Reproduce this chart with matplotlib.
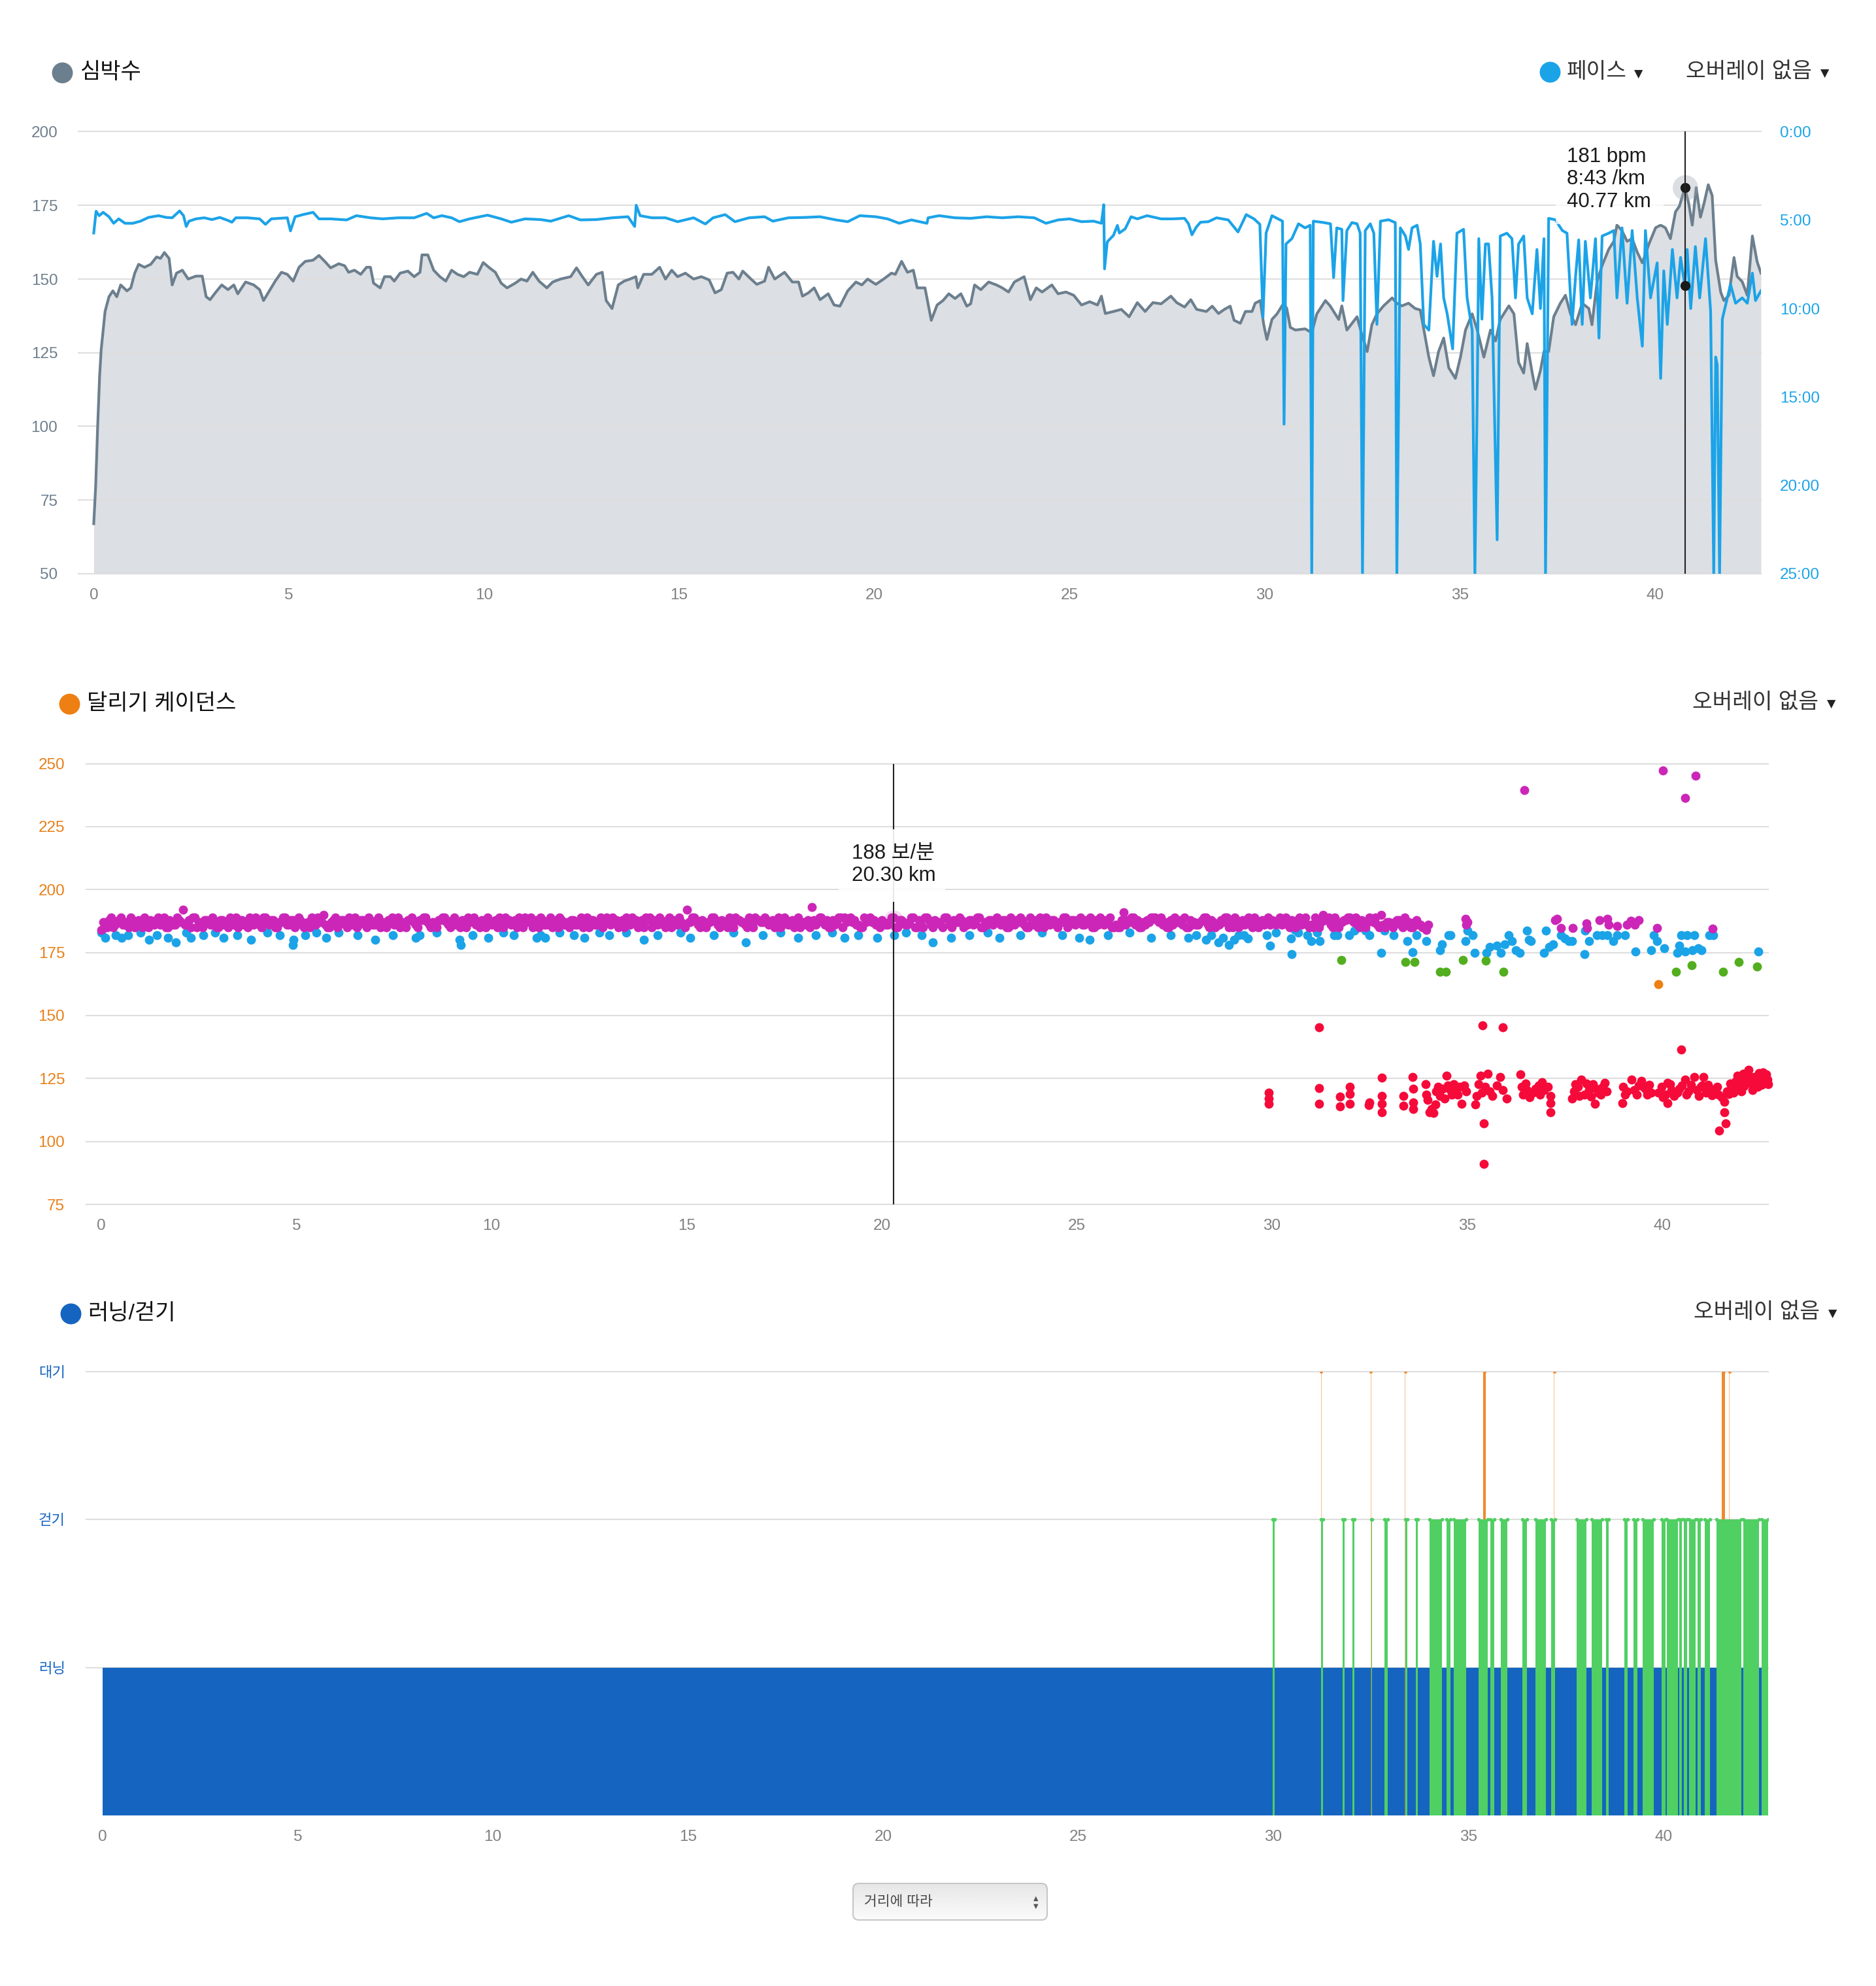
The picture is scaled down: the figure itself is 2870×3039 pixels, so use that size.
import numpy as np
import matplotlib
matplotlib.use("Agg")
import matplotlib.pyplot as plt
from matplotlib.lines import Line2D
from matplotlib.patches import FancyBboxPatch, Rectangle

plt.rcParams['font.family'] = ['Liberation Sans', 'Noto Sans CJK KR', 'DejaVu Sans']

# ── data: heart rate (km, bpm) ────────────────────────────────────
hr_km = [
    0.00, 0.05, 0.10, 0.15, 0.19, 0.29, 0.39, 0.49, 0.59, 0.69,
    0.85, 0.95, 1.05, 1.15, 1.30, 1.46, 1.61, 1.71, 1.81, 1.93,
    2.01, 2.12, 2.27, 2.42, 2.62, 2.78, 2.88, 2.98, 3.13, 3.28,
    3.44, 3.59, 3.69, 3.89, 4.10, 4.25, 4.35, 4.50, 4.65, 4.81,
    4.96, 5.11, 5.26, 5.42, 5.62, 5.77, 5.92, 6.07, 6.28, 6.43,
    6.53, 6.68, 6.84, 6.99, 7.09, 7.17, 7.34, 7.45, 7.60, 7.70,
    7.85, 8.05, 8.21, 8.36, 8.41, 8.56, 8.71, 8.87, 9.02, 9.17,
    9.32, 9.48, 9.63, 9.83, 9.98, 10.14, 10.29, 10.44, 10.59, 10.80,
    10.95, 11.10, 11.25, 11.41, 11.61, 11.76, 11.96, 12.22, 12.37, 12.52,
    12.67, 12.88, 13.03, 13.13, 13.28, 13.44, 13.59, 13.74, 13.89, 13.94,
    14.09, 14.30, 14.50, 14.65, 14.81, 14.96, 15.16, 15.37, 15.57, 15.77,
    15.92, 16.08, 16.23, 16.38, 16.53, 16.63, 16.84, 16.99, 17.19, 17.29,
    17.45, 17.70, 17.90, 18.06, 18.16, 18.31, 18.46, 18.61, 18.82, 18.97,
    19.12, 19.32, 19.53, 19.68, 19.83, 20.04, 20.24, 20.44, 20.54, 20.70,
    20.85, 21.00, 21.10, 21.30, 21.46, 21.61, 21.76, 21.91, 22.07, 22.22,
    22.37, 22.47, 22.57, 22.73, 22.93, 23.13, 23.28, 23.44, 23.59, 23.84,
    24.00, 24.15, 24.30, 24.55, 24.71, 24.91, 25.11, 25.31, 25.52, 25.72,
    25.82, 25.92, 26.13, 26.33, 26.53, 26.74, 26.94, 27.14, 27.35, 27.60,
    27.75, 27.95, 28.11, 28.26, 28.51, 28.66, 28.82, 28.97, 29.12, 29.22,
    29.38, 29.51, 29.68, 29.76, 29.89, 29.98, 30.06, 30.19, 30.32, 30.49,
    30.57, 30.66, 30.79, 31.04, 31.21, 31.34, 31.56, 31.68, 31.90, 31.98,
    32.11, 32.37, 32.50, 32.63, 32.75, 32.88, 33.05, 33.27, 33.39, 33.52,
    33.69, 33.86, 33.99, 34.12, 34.21, 34.33, 34.46, 34.59, 34.72, 34.89,
    35.02, 35.15, 35.32, 35.45, 35.62, 35.79, 35.92, 36.04, 36.26, 36.39,
    36.51, 36.64, 36.73, 36.86, 36.94, 37.07, 37.16, 37.28, 37.41, 37.58,
    37.71, 37.84, 37.97, 38.14, 38.31, 38.39, 38.52, 38.65, 38.82, 38.95,
    39.03, 39.16, 39.29, 39.42, 39.55, 39.68, 39.85, 40.02, 40.15, 40.27,
    40.40, 40.53, 40.63, 40.77, 40.87, 40.96, 41.06, 41.17, 41.26, 41.37,
    41.47, 41.56, 41.69, 41.77, 41.90, 42.03, 42.11, 42.24, 42.37, 42.50,
    42.62, 42.72,
]
hr_bpm = [
    67, 80, 100, 117, 126, 139, 144, 146, 144, 148,
    146, 147, 152, 155, 154, 155, 157.5, 157, 159, 157,
    148, 152, 153, 150, 151, 151, 144, 143, 145.6, 148,
    146.4, 148, 145, 149, 148, 146.4, 142.7, 146, 149.3, 152.3,
    151.6, 149.3, 154, 156, 156.4, 158, 156, 153.8, 155.2, 154.5,
    152.3, 153, 151.6, 154, 154, 148.6, 147, 150.8, 150.8, 149.3,
    152, 152.7, 150.8, 152.3, 158.2, 158.2, 153, 150.8, 149.3, 153,
    151.6, 150.8, 152.3, 151.6, 155.6, 153.8, 152.3, 148.6, 147, 148.6,
    150, 149.3, 152.3, 149.3, 147, 149, 150, 150.8, 153.8, 150.8,
    148, 151.6, 152.3, 142.7, 140, 148, 149.3, 150, 150.8, 147,
    151.6, 151.6, 154, 150, 153, 150.8, 152, 150, 150.8, 149.7,
    145.3, 146.4, 152, 152.3, 150, 152.7, 150, 148.2, 149.3, 154,
    150, 152.3, 149, 149, 144.2, 145.3, 147, 143, 145, 141.2,
    140.8, 146, 149, 148, 150, 148.2, 150, 152, 151.6, 156,
    152.3, 153, 147, 147, 136, 141.2, 142.7, 145, 143.4, 145,
    140.8, 141.6, 148, 146.4, 149, 148, 147, 145.6, 149, 150.8,
    143, 147, 145.6, 148, 145, 145.6, 144.5, 141.2, 142.3, 141.2,
    144.2, 138.3, 139, 139.7, 137.2, 142, 139, 142, 141.6, 144.2,
    142, 140.5, 143, 139.7, 139, 140.8, 138.3, 139.7, 140.8, 136,
    135, 139, 139, 141.8, 142.7, 134.5, 129.5, 136.3, 138.2, 141.8,
    140, 133.6, 132.7, 133.1, 131.8, 138.2, 142.7, 140.9, 136.3, 140.9,
    132.7, 137.2, 130.9, 125.4, 134.5, 138.2, 140.9, 143.6, 141.8, 140.9,
    141.8, 140, 139.5, 130, 123.5, 117.2, 125.4, 130, 119.9, 116.3,
    123.5, 132.7, 138.2, 132.7, 123.5, 132.7, 129, 136.3, 140.9, 138.2,
    121.7, 118.1, 128.1, 118.1, 112.6, 119, 125.4, 125.4, 137.2, 141.8,
    144.5, 138.2, 134.5, 141.8, 140, 134.5, 149.1, 154.6, 160.1, 162.8,
    168.3, 166.4, 162.8, 163.7, 159.1, 155.5, 161.9, 167.4, 168.3, 167.4,
    163.7, 172.8, 174.7, 181, 175.6, 168.3, 181, 171, 175.6, 182,
    178.3, 156.4, 145.5, 142.7, 144.5, 157.3, 150.9, 149.1, 144.5, 164.6,
    156, 152,
]

# ── data: pace (km, minutes per km) ───────────────────────────────
pace_km = [
    0.00, 0.06, 0.14, 0.24, 0.39, 0.51, 0.64, 0.80, 1.00, 1.20,
    1.40, 1.66, 1.86, 2.01, 2.20, 2.30, 2.37, 2.44, 2.62, 2.83,
    3.03, 3.23, 3.44, 3.54, 3.64, 3.94, 4.25, 4.40, 4.55, 4.96,
    5.04, 5.16, 5.36, 5.62, 5.77, 6.07, 6.48, 6.73, 7.09, 7.40,
    7.80, 8.21, 8.53, 8.71, 8.92, 9.17, 9.37, 9.63, 10.09, 10.44,
    10.70, 11.05, 11.45, 11.71, 12.17, 12.47, 12.88, 13.28, 13.69, 13.86,
    13.90, 14.00, 14.30, 14.65, 14.96, 15.37, 15.67, 15.87, 16.18, 16.43,
    16.79, 17.19, 17.40, 17.80, 18.21, 18.61, 19.02, 19.32, 19.63, 20.04,
    20.34, 20.64, 20.95, 21.35, 21.38, 21.66, 22.07, 22.47, 22.88, 23.28,
    23.69, 24.10, 24.40, 24.71, 25.01, 25.31, 25.62, 25.82, 25.88, 25.90,
    25.97, 26.13, 26.23, 26.28, 26.43, 26.58, 26.74, 26.99, 27.35, 27.65,
    27.95, 28.05, 28.14, 28.25, 28.36, 28.56, 28.77, 29.07, 29.32, 29.53,
    29.73, 29.88, 29.96, 30.04, 30.19, 30.32, 30.46, 30.50, 30.55, 30.70,
    30.87, 31.04, 31.17, 31.21, 31.25, 31.52, 31.69, 31.77, 31.85, 31.98,
    32.01, 32.11, 32.24, 32.37, 32.45, 32.51, 32.58, 32.71, 32.80, 32.88,
    32.97, 33.18, 33.35, 33.39, 33.48, 33.61, 33.69, 33.78, 33.91, 33.99,
    34.08, 34.21, 34.33, 34.42, 34.51, 34.59, 34.68, 34.82, 34.93, 35.10,
    35.19, 35.32, 35.39, 35.45, 35.49, 35.57, 35.66, 35.74, 35.83, 35.96,
    36.04, 36.21, 36.34, 36.43, 36.51, 36.64, 36.73, 36.86, 36.98, 37.07,
    37.16, 37.20, 37.28, 37.45, 37.63, 37.75, 37.88, 37.97, 38.05, 38.14,
    38.22, 38.35, 38.48, 38.57, 38.65, 38.82, 38.95, 39.03, 39.16, 39.29,
    39.42, 39.55, 39.68, 39.76, 39.89, 40.06, 40.15, 40.23, 40.32, 40.45,
    40.57, 40.66, 40.77, 40.83, 40.92, 41.04, 41.15, 41.30, 41.43, 41.51,
    41.56, 41.60, 41.66, 41.73, 41.94, 42.07, 42.24, 42.37, 42.50, 42.58,
    42.72,
]
pace_min = [
    5.73, 4.50, 4.75, 4.56, 4.81, 5.18, 4.93, 5.18, 5.18, 5.06,
    4.85, 4.75, 4.85, 4.87, 4.48, 4.75, 5.36, 5.06, 4.93, 4.87,
    4.97, 4.85, 5.02, 5.12, 4.87, 4.87, 4.93, 5.24, 4.93, 4.87,
    5.61, 4.81, 4.69, 4.56, 4.93, 4.93, 4.99, 4.75, 4.87, 4.93,
    4.87, 4.87, 4.62, 4.87, 4.75, 4.87, 5.09, 4.93, 4.72, 4.93,
    5.12, 4.93, 4.97, 5.06, 4.75, 4.99, 4.97, 4.87, 4.81, 5.36,
    4.16, 4.75, 4.87, 4.87, 5.09, 4.87, 5.22, 4.87, 4.69, 5.09,
    4.87, 4.81, 5.06, 4.87, 4.85, 4.81, 4.99, 5.09, 4.75, 4.81,
    4.93, 5.18, 4.99, 5.18, 4.87, 4.75, 4.87, 4.90, 4.81, 4.87,
    4.81, 4.87, 5.18, 4.99, 4.93, 5.09, 5.06, 5.18, 4.13, 7.76,
    6.23, 5.86, 5.30, 5.73, 5.49, 4.81, 4.93, 4.75, 4.93, 4.93,
    4.90, 5.20, 5.83, 5.40, 5.12, 5.09, 4.87, 4.99, 5.67, 4.69,
    4.93, 5.24, 10.5, 5.73, 4.75, 4.90, 5.06, 16.54, 6.35, 6.05,
    5.21, 5.44, 5.29, 25.0, 5.06, 5.14, 5.21, 8.25, 5.44, 5.52,
    9.55, 5.59, 5.14, 5.21, 5.74, 25.0, 5.59, 5.21, 5.74, 10.9,
    5.06, 4.98, 5.14, 25.0, 5.44, 5.90, 6.66, 5.44, 5.29, 6.35,
    10.9, 11.22, 6.20, 8.18, 6.35, 9.40, 10.3, 12.28, 5.74, 5.52,
    9.40, 11.22, 25.0, 14.9, 6.05, 10.6, 6.35, 6.35, 9.40, 23.08,
    5.90, 5.74, 6.05, 9.40, 6.35, 5.90, 9.40, 10.3, 6.66, 10.0,
    6.05, 25.0, 4.90, 4.98, 5.59, 5.74, 10.9, 8.18, 6.12, 10.9,
    6.20, 9.40, 6.05, 11.67, 5.90, 5.74, 5.59, 9.40, 5.44, 9.70,
    5.59, 9.40, 12.13, 5.59, 9.40, 7.42, 13.95, 7.87, 10.9, 6.66,
    9.40, 7.11, 8.72, 6.66, 10.0, 6.50, 9.40, 6.05, 10.15, 25.0,
    12.74, 13.2, 25.0, 10.6, 8.63, 9.70, 9.40, 9.70, 8.00, 9.55,
    9.00,
]
hr_ticks = [50, 75, 100, 125, 150, 175, 200]
pace_ticks = [0, 5, 10, 15, 20, 25]
pace_labels = ['0:00', '5:00', '10:00', '15:00', '20:00', '25:00']

# ── data: running cadence (steps/min) ─────────────────────────────
# main magenta band: two interleaved sample rows, every 0.1 km, 0 to 34 km
mag_spm = [int(v) for v in """
184 186 188 185 187 189 186 185 188 187  186 189 185 187 188 186 189 185 187 186
188 192 186 185 189 187 185 188 186 187  185 188 187 189 186 185 188 187 189 186
187 185 189 186 188 185 187 189 186 188  186 188 185 187 189 186 188 190 185 187
189 186 188 185 187 189 186 188 185 187  186 189 187 185 188 186 189 187 185 188
187 185 188 189 186 187 185 188 189 186  188 186 185 187 189 188 186 185 187 189
186 188 189 185 187 186 188 189 185 187  189 187 185 188 186 189 187 185 188 186
185 188 186 189 187 185 188 186 189 187  187 189 188 186 185 187 189 188 186 185
188 185 187 189 186 188 185 187 189 186  192 187 189 186 188 185 187 189 186 188
186 189 185 188 187 186 189 185 188 187  189 186 188 187 185 189 186 188 187 185
187 188 193 186 189 187 188 185 186 189  185 187 189 188 186 185 187 189 188 186
188 186 187 189 185 188 186 187 189 185  186 189 188 185 187 186 189 188 185 187
189 185 186 188 187 189 185 186 188 187  187 188 185 189 186 187 188 185 189 186
185 187 189 186 188 185 187 189 186 188  188 189 186 187 185 188 189 186 187 185
186 185 191 188 189 186 185 187 188 189  189 187 186 185 188 189 187 186 185 188
187 186 188 189 185 187 186 188 189 185  185 188 187 186 189 185 188 187 186 189
188 186 189 187 186 188 185 189 187 186  186 189 185 190 188 186 189 185 187 188
189 187 186 188 185 189 187 186 190 185  187 185 188 186 189 187 185 188 186 185
186
""".split()]
mag_b_spm = [int(v) for v in """
187 185 189 186 188 186 187 189 185 188  185 187 188 186 189 187 185 188 186 189
187 186 188 189 185 186 188 187 189 185  188 186 185 187 189 188 186 185 187 189
186 189 187 188 185 187 189 186 188 185  189 187 186 185 188 189 187 186 185 188
185 188 187 189 186 185 188 187 189 186  188 185 186 188 189 187 185 186 188 189
186 188 189 187 185 186 188 189 187 185  189 186 188 185 187 189 186 188 185 187
187 185 186 189 188 187 185 186 189 188  185 188 189 186 187 185 188 189 186 187
188 186 187 185 189 188 186 187 185 189  186 187 185 188 189 186 187 185 188 189
189 188 186 187 185 189 188 186 187 185  187 189 188 185 186 187 189 188 185 186
185 186 189 188 187 185 186 189 188 187  188 187 185 189 186 188 187 185 189 186
186 185 188 187 189 186 185 188 187 189  189 188 187 186 185 189 188 187 186 185
187 186 189 185 188 187 186 189 185 188  185 189 186 188 187 185 189 186 188 187
188 187 188 186 189 185 187 188 186 189  186 188 185 187 188 189 186 185 187 188
189 185 187 188 186 187 189 185 188 186  187 186 188 189 185 186 187 188 189 185
185 188 186 187 189 188 185 186 187 189  188 189 187 185 186 187 188 189 185 186
186 187 189 186 188 185 186 187 189 188  189 185 188 187 186 189 185 188 187 186
187 188 186 189 185 187 188 186 189 185  185 186 187 188 189 185 186 187 188 189
188 189 185 186 187 188 189 185 186 187  186 187 188 185 186 185 187 186 185 184
""".split()]
mag_step_km = 0.1

mag2_km = [34.96, 34.98, 35.00, 37.26, 37.30, 37.40, 37.70, 38.05, 38.07, 38.40,
           38.60, 38.62, 38.85, 39.10, 39.20, 39.30, 39.40, 39.87, 41.29, 36.46,
           40.02, 40.59, 40.86]
mag2_spm = [188.5, 186.0, 187.0, 187.8, 188.5, 184.7, 184.7, 186.5, 184.7, 187.8,
            188.5, 186.0, 185.5, 186.0, 187.5, 186.0, 187.8, 184.7, 184.6, 239.6,
            247.4, 236.5, 245.3]

blue_km = [
    0.00, 0.10, 0.36, 0.52, 0.68, 1.00, 1.22, 1.43, 1.70, 1.91,
    2.18, 2.29, 2.61, 2.92, 3.14, 3.48, 3.83, 4.26, 4.58, 4.90,
    4.92, 5.22, 5.51, 5.76, 6.08, 6.56, 7.02, 7.47, 8.05, 8.16,
    8.59, 9.18, 9.21, 9.52, 9.92, 10.30, 10.57, 11.15, 11.26, 11.37,
    11.74, 12.11, 12.38, 12.76, 13.02, 13.45, 13.90, 14.25, 14.84, 15.10,
    15.70, 16.20, 16.52, 16.95, 17.40, 17.85, 18.30, 18.72, 19.05, 19.40,
    19.88, 20.31, 20.62, 21.02, 21.30, 21.78, 22.25, 22.71, 23.02, 23.55,
    24.10, 24.62, 25.05, 25.33, 25.80, 26.35, 26.90, 27.40, 27.85, 28.05,
    28.30, 28.45, 28.62, 28.75, 28.90, 29.02, 29.15,
    29.28, 29.38, 29.86, 29.95, 30.10, 30.48, 30.51, 30.58, 30.67, 30.91,
    31.00, 31.15, 31.23, 31.59, 31.68, 31.97, 32.11, 32.40, 32.50, 32.79,
    32.88, 33.12, 33.46, 33.60, 33.70, 33.96, 34.30, 34.35, 34.52, 34.57,
    34.95, 35.00, 35.14, 35.19, 35.50, 35.58, 35.77, 35.86, 35.96, 36.06,
    36.15, 36.25, 36.35, 36.54, 36.58, 36.63, 36.97, 37.02, 37.11, 37.21,
    37.40, 37.50, 37.60, 37.69, 38.00, 38.03, 38.12, 38.32, 38.46, 38.60,
    38.75, 38.85, 39.04, 39.31, 39.71, 39.79, 39.86, 40.05, 40.38, 40.43,
    40.48, 40.58, 40.63, 40.77, 40.82, 40.92, 41.01, 41.20, 41.30, 42.46,
]
blue_spm = [
    183, 181, 182, 181, 182, 183, 180, 182, 181, 179,
    183, 181, 182, 183, 181, 182, 180, 183, 182, 178,
    180, 182, 183, 181, 183, 182, 180, 182, 181, 182,
    183, 180, 178, 182, 181, 183, 182, 181, 182, 181,
    183, 182, 181, 183, 182, 183, 180, 182, 183, 181,
    182, 183, 179, 182, 183, 181, 182, 183, 181, 182,
    181, 182, 183, 182, 179, 181, 182, 183, 181, 182,
    183, 182, 181, 180, 182, 183, 181, 182, 181, 182,
    180, 182, 179, 181, 178, 180, 182,
    181.8, 180.7, 181.8, 177.8, 183.0, 180.7, 174.3, 184.1, 183.0, 181.8,
    179.5, 183.0, 179.5, 181.8, 181.8, 181.8, 183.6, 183.6, 181.8, 174.9,
    183.6, 181.8, 179.5, 175.1, 181.8, 179.5, 176.0, 178.4, 181.8, 181.8,
    179.5, 183.6, 181.8, 174.9, 174.9, 177.2, 177.8, 174.9, 178.4, 181.8,
    179.5, 176.0, 174.9, 183.6, 180.1, 179.5, 174.9, 183.6, 177.2, 178.4,
    181.8, 180.7, 179.5, 179.5, 174.3, 183.6, 179.5, 181.8, 181.8, 181.8,
    179.5, 181.8, 181.8, 175.3, 176.0, 181.8, 179.5, 176.6, 174.9, 177.8,
    181.8, 175.4, 181.8, 176.0, 181.8, 176.6, 176.0, 181.8, 181.8, 175.3,
]

green_km = [31.77, 33.41, 33.65, 34.30, 34.45, 34.89, 35.48, 35.93, 40.35, 40.75,
            41.56, 41.96, 42.43]
green_spm = [172.1, 171.2, 171.2, 167.5, 167.5, 172.1, 171.9, 167.5, 167.5, 170.0,
             167.5, 171.2, 169.5]
orange_km = [39.90]
orange_spm = [162.4]

red_km = [
    29.92, 29.92, 29.92, 31.20, 31.20, 31.75, 31.75, 32.00, 32.00, 32.00,
    32.48, 32.50, 32.81, 32.81, 32.81, 32.81, 33.36, 33.36, 33.60, 33.62,
    33.62, 33.62, 33.94, 33.96, 33.99, 34.04, 34.09, 34.13, 34.18, 34.21,
    34.25, 34.31, 34.37, 34.42, 34.47, 34.50, 34.57, 34.61, 34.66, 34.71,
    34.76, 34.81, 34.86, 34.92, 34.98, 35.21, 35.24, 35.29, 35.34, 35.38,
    35.46, 35.53, 35.58, 35.65, 35.77, 35.85, 35.91, 36.01, 36.36, 36.39,
    36.44, 36.54, 36.68, 36.83, 36.87, 36.97, 37.07, 37.13, 37.13, 37.13,
    37.69, 37.74, 37.84, 37.93, 38.00, 38.12, 38.22, 38.27, 38.36, 38.48,
    38.58, 38.97, 38.99, 39.04, 39.21, 39.28, 39.40, 39.52, 39.61, 39.71,
    39.90, 39.98, 40.08, 40.14, 40.14, 40.24, 40.38, 40.50, 40.58, 40.67,
    40.82, 40.88, 40.98, 41.06, 41.13, 41.23, 41.35, 41.44, 41.52, 41.59,
    41.59, 41.65, 41.78, 41.87, 41.92, 42.00, 42.07, 42.13, 42.21, 42.29,
    42.36, 42.42, 42.50, 42.58, 42.64, 42.69, 42.31, 42.45, 31.20, 35.39,
    35.92, 40.48, 35.42, 35.42, 41.45, 41.63, 36.50, 36.60, 36.75, 36.92,
    37.78, 37.88, 38.05, 38.18, 38.30, 38.42, 38.53, 39.10, 39.35, 39.46,
    39.57, 39.66, 40.02, 40.20, 40.30, 40.44, 40.62, 40.73, 40.93, 41.02,
    41.18, 41.28, 41.40, 41.70, 41.74, 41.83, 41.96, 42.03, 42.10, 42.17,
    42.25, 42.33, 42.39, 42.48, 42.55, 42.61, 42.67, 42.71,
]
red_spm = [
    119.3, 117.0, 114.9, 121.2, 115.0, 117.8, 113.9, 121.6, 118.9, 115.0,
    114.4, 115.6, 125.4, 118.1, 114.9, 111.7, 118.1, 114.1, 125.6, 121.0,
    115.5, 112.9, 122.7, 118.7, 116.4, 111.7, 112.9, 111.2, 114.6, 119.9,
    121.6, 118.1, 121.0, 117.0, 126.2, 122.2, 120.4, 118.7, 122.7, 119.9,
    118.7, 121.6, 115.0, 122.2, 119.9, 114.6, 118.1, 122.7, 126.2, 119.3,
    121.6, 126.8, 119.9, 118.1, 122.2, 125.6, 120.4, 117.0, 126.6, 121.6,
    118.7, 120.4, 119.3, 122.2, 118.7, 120.4, 121.6, 118.1, 115.2, 111.7,
    117.0, 119.9, 121.6, 124.5, 118.7, 120.4, 122.7, 115.0, 119.3, 121.6,
    119.9, 115.2, 121.6, 118.7, 124.5, 120.4, 122.2, 121.6, 118.7, 119.3,
    119.3, 121.6, 118.7, 123.3, 115.2, 120.4, 119.3, 122.2, 124.5, 119.9,
    125.6, 120.4, 121.6, 125.6, 119.3, 121.0, 120.4, 118.7, 117.5, 111.7,
    115.8, 119.9, 121.6, 123.9, 126.2, 123.3, 126.8, 124.5, 128.5, 122.7,
    125.6, 123.9, 125.1, 127.4, 123.9, 124.5, 120.4, 121.6, 145.2, 146.1,
    145.2, 136.4, 107.3, 91.1, 104.2, 107.2, 123.0, 117.5, 121.0, 123.5,
    122.8, 118.0, 123.0, 117.8, 121.0, 118.5, 123.2, 120.0, 118.5, 124.0,
    120.8, 122.6, 117.5, 122.8, 118.2, 120.8, 118.5, 122.6, 118.0, 122.3,
    122.4, 118.4, 121.8, 118.8, 122.9, 119.5, 121.0, 119.8, 122.0, 124.2,
    125.8, 124.3, 122.0, 127.2, 122.5, 125.9, 126.6, 122.8,
]
cad_ticks = [75, 100, 125, 150, 175, 200, 225, 250]

# ── data: running / walking segments (km) ─────────────────────────
run_start = [0.0]
run_end = [42.62]
walk_start = [29.98, 31.22, 31.77, 32.03, 32.51, 32.85, 33.38, 33.65, 34.01, 34.44,
              34.63, 35.26, 35.57, 35.83, 36.39, 36.72, 37.13, 37.78, 38.16, 38.53,
              39.00, 39.23, 39.47, 39.95, 40.09, 40.41, 40.53, 40.66, 40.88, 41.06,
              41.36, 42.04, 42.52]
walk_end = [30.03, 31.27, 31.82, 32.08, 32.54, 32.93, 33.43, 33.70, 34.33, 34.54,
            34.94, 35.50, 35.66, 36.00, 36.50, 36.99, 37.23, 38.03, 38.43, 38.60,
            39.08, 39.33, 39.76, 40.05, 40.37, 40.47, 40.60, 40.82, 40.95, 41.20,
            41.99, 42.45, 42.69]
stand_start = [31.22, 32.49, 33.37, 35.38, 37.19, 41.50, 41.68]
stand_end = [31.24, 32.51, 33.39, 35.45, 37.21, 41.58, 41.70]
state_ticks = [1, 2, 3]
state_labels = ['러닝', '걷기', '대기']
km_ticks = [0, 5, 10, 15, 20, 25, 30, 35, 40]

# ── colours ───────────────────────────────────────────────────────
HR_LINE, HR_FILL = '#6C7F8E', '#DCDFE3'
PACE = '#1BA3E8'
GRID = '#DEDEDE'
MAG, CBLUE, CGREEN, CORANGE, CRED = '#CC26B8', '#1BA3E8', '#52AE1F', '#EE7F12', '#F50A3A'
RUN, WALK, STAND = '#1565C0', '#50CF63', '#F08A2C'
XLAB = '#808080'

W, H = 2870, 3039
fig = plt.figure(figsize=(W / 100, H / 100), dpi=100)
fig.patch.set_facecolor('white')


def px_axes(l, t, r, b):
    return fig.add_axes([l / W, 1 - b / H, (r - l) / W, (b - t) / H])


def style(ax, ylim, yticks, ylabels, ycolor, xlim, ypad=23):
    ax.set_xlim(*xlim)
    ax.set_ylim(*ylim)
    for s in ax.spines.values():
        s.set_visible(False)
    ax.set_facecolor('none')
    ax.set_xticks(km_ticks)
    ax.set_yticks(yticks)
    ax.set_yticklabels(ylabels)
    ax.tick_params(length=0, labelsize=17.5)
    ax.tick_params(axis='x', colors=XLAB, pad=16)
    ax.tick_params(axis='y', colors=ycolor, pad=ypad)
    for y in yticks:
        ax.axhline(y, color=GRID, lw=1.5, zorder=1.5, clip_on=False)


def header(xdot, y, color, label, size=24.5):
    fig.add_artist(Line2D([xdot / W], [1 - y / H], marker='o', ms=23, color=color,
                          mew=0, transform=fig.transFigure))
    fig.text((xdot + 27) / W, 1 - y / H, label, fontsize=size, color='#111',
             va='center', ha='left')


def overlay(x, y, label='오버레이 없음', tri_dx=206):
    fig.text(x / W, 1 - y / H, label, fontsize=24, color='#333', va='center', ha='left')
    fig.text((x + tri_dx) / W, 1 - (y + 3) / H, '▼', fontsize=12.5, color='#222',
             va='center', ha='left', family='DejaVu Sans')


# ── panel 1: heart rate + pace ────────────────────────────────────
ax1 = px_axes(120.2, 201.5, 2694, 878)
style(ax1, (50, 200), hr_ticks, [str(t) for t in hr_ticks], '#6E7F8D', (-0.389, 42.72))
ax1.fill_between(hr_km, hr_bpm, 50, color=HR_FILL, lw=0, zorder=1)
ax1.plot(hr_km, hr_bpm, color=HR_LINE, lw=3.0, zorder=2, solid_joinstyle='round')

axp = ax1.twinx()
axp.set_ylim(25, 0)
for s in axp.spines.values():
    s.set_visible(False)
axp.set_yticks(pace_ticks)
axp.set_yticklabels(pace_labels)
axp.tick_params(length=0, labelsize=17.5, colors=PACE, pad=21)
axp.plot(pace_km, pace_min, color=PACE, lw=3.0, zorder=3, solid_joinstyle='round')

# hover marker at 40.77 km
sel_km = 40.77
axp.axvline(sel_km, color='#222', lw=1.5, zorder=4)
ax1.plot([sel_km], [181], 'o', ms=28, color='#9AA3AC', alpha=0.35, mew=0, zorder=5)
ax1.plot([sel_km], [181], 'o', ms=11, color='#1A1A1A', mew=0, zorder=6)
axp.plot([sel_km], [8.717], 'o', ms=11, color='#1A1A1A', mew=0, zorder=6)
axp.add_patch(Rectangle((37.46, 0.5), 2.77, 4.73, facecolor='white', alpha=0.78,
                        lw=0, zorder=7))
axp.text(37.74, 0.86, '181 bpm\n8:43 /km\n40.77 km', fontsize=22.5, color='#1A1A1A',
         va='top', ha='left', linespacing=1.2, zorder=8)

header(95, 111, HR_LINE, '심박수')
fig.add_artist(Line2D([2371 / W], [1 - 110 / H], marker='o', ms=23, color=PACE,
                      mew=0, transform=fig.transFigure))
fig.text(2397 / W, 1 - 110 / H, '페이스', fontsize=24, color='#333', va='center')
fig.text(2500 / W, 1 - 114 / H, '▼', fontsize=12.5, color='#222', va='center',
         family='DejaVu Sans')
overlay(2579, 110)

# ── panel 2: running cadence ──────────────────────────────────────
ax2 = px_axes(131.8, 1168.6, 2705.4, 1843)
style(ax2, (75, 250), cad_ticks, [str(t) for t in cad_ticks], '#E8801A', (-0.389, 42.72),
      ypad=23.5)
mag_km = np.arange(len(mag_spm)) * mag_step_km
mag_b_km = np.arange(len(mag_b_spm)) * mag_step_km + mag_step_km / 2
dot = dict(ls='none', marker='o', ms=10, mew=0, zorder=3, clip_on=False)
ax2.plot(blue_km, blue_spm, color=CBLUE, **dot)
ax2.plot(mag_km, mag_spm, color=MAG, **dot)
ax2.plot(mag_b_km, mag_b_spm, color=MAG, **dot)
ax2.plot(mag2_km, mag2_spm, color=MAG, **dot)
ax2.plot(green_km, green_spm, color=CGREEN, **dot)
ax2.plot(orange_km, orange_spm, color=CORANGE, **dot)
ax2.plot(red_km, red_spm, color=CRED, **dot)

sel2 = 20.30
ax2.axvline(sel2, color='#222', lw=1.5, zorder=5)
ax2.plot([sel2], [188], 'o', ms=22, color=MAG, alpha=0.18, mew=0, zorder=6)
ax2.add_patch(Rectangle((18.9, 195.1), 2.73, 28.8, facecolor='white', alpha=0.9,
                        lw=0, zorder=6))
ax2.text(sel2, 218.3, '188 보/분\n20.30 km', fontsize=22.5, color='#1A1A1A',
         ha='center', va='top', linespacing=1.2, zorder=7)

header(106, 1077, CORANGE, '달리기 케이던스')
overlay(2589, 1075)

# ── panel 3: running / walking ────────────────────────────────────
ax3 = px_axes(131.8, 2099, 2705.4, 2778)
style(ax3, (0, 3), state_ticks, state_labels, RUN, (-0.422, 42.69))
ax3.tick_params(axis='y', labelsize=16)

run_w = np.subtract(run_end, run_start)
walk_w = np.subtract(walk_end, walk_start)
stand_w = np.subtract(stand_end, stand_start)
ax3.bar(run_start, 1, width=run_w, align='edge', color=RUN, lw=0, zorder=2)
for x0, w in zip(stand_start, stand_w):
    ax3.bar(x0, 3, width=w, align='edge', color=STAND, lw=0, zorder=3,
            alpha=1.0 if w > 0.04 else 0.55)
ax3.plot(np.add(stand_start, stand_w / 2), [3] * len(stand_start), 'o', ms=3.5,
         color=STAND, mew=0, zorder=3)
ax3.bar(walk_start, 2, width=walk_w, align='edge', color=WALK, lw=0, zorder=4)
ax3.plot(walk_start, [2] * len(walk_start), 'o', ms=4, color=WALK, mew=0, zorder=4)
ax3.plot(walk_end, [2] * len(walk_end), 'o', ms=4, color=WALK, mew=0, zorder=4)

header(107.6, 2010, RUN, '러닝/걷기')
overlay(2591, 2008)

# ── distance selector ─────────────────────────────────────────────
axd = px_axes(1304, 2881, 1603, 2939)
axd.set_xlim(0, 299)
axd.set_ylim(0, 58)
axd.axis('off')
box = FancyBboxPatch((1, 1), 297, 56, boxstyle='round,pad=0,rounding_size=9',
                     facecolor='none', edgecolor='#C6C6C6', lw=1.5, zorder=3)
axd.add_patch(box)
grad = np.linspace(0.90, 0.985, 64).reshape(-1, 1)
im = axd.imshow(grad, extent=(1, 298, 1, 57), cmap='gray', vmin=0, vmax=1,
                aspect='auto', origin='upper', zorder=1)
im.set_clip_path(box)
axd.text(18, 28, '거리에 따라', fontsize=15.5, color='#4A4A4A', va='center', ha='left', zorder=4)
axd.text(281, 34, '▲', fontsize=7, color='#555', va='center', ha='center',
         family='DejaVu Sans', zorder=4)
axd.text(281, 22, '▼', fontsize=7, color='#555', va='center', ha='center',
         family='DejaVu Sans', zorder=4)

fig.savefig('out.png', dpi=100, facecolor='white')
